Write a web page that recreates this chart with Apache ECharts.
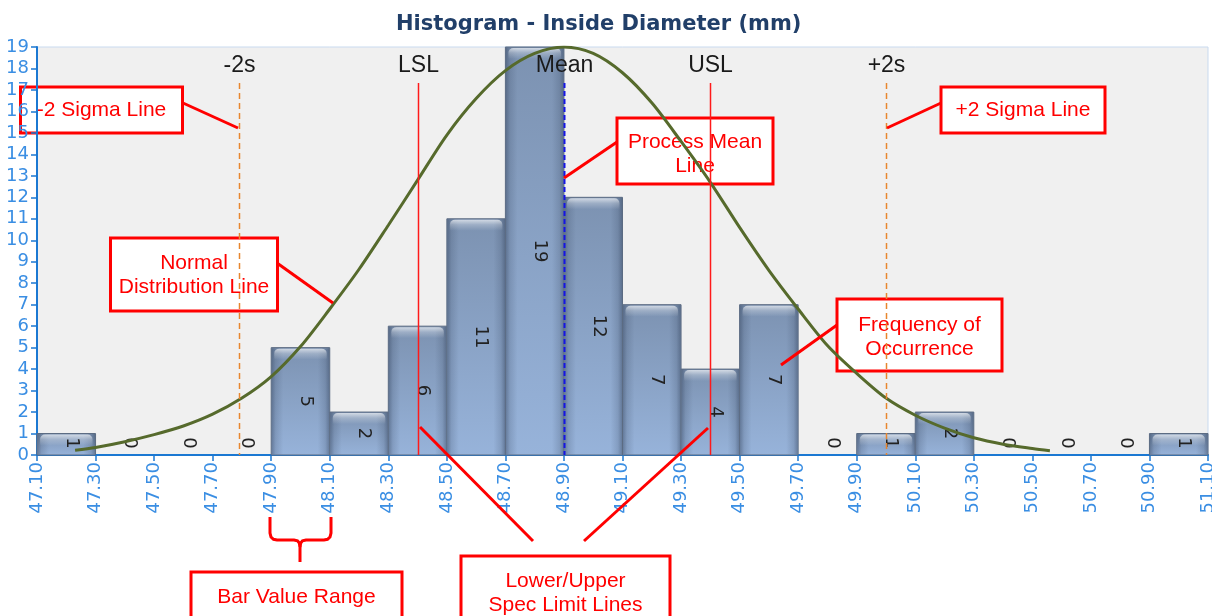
<!DOCTYPE html>
<html>
<head>
<meta charset="utf-8">
<script src="https://cdn.jsdelivr.net/npm/echarts@6/dist/echarts.min.js"></script>
<style>
  html, body { margin: 0; padding: 0; background: #ffffff; }
  #chart { width: 1212px; height: 616px; }
</style>
</head>
<body>
<div id="chart"></div>
<script>
// Bin edges (mm) – also used as the x tick labels
const binEdges = [47.10, 47.30, 47.50, 47.70, 47.90, 48.10, 48.30, 48.50, 48.70, 48.90,
                  49.10, 49.30, 49.50, 49.70, 49.90, 50.10, 50.30, 50.50, 50.70, 50.90, 51.10];
// Frequency of occurrence in each bin
const counts = [1, 0, 0, 0, 5, 2, 6, 11, 19, 12, 7, 4, 7, 0, 1, 2, 0, 0, 0, 1];

// Fitted normal distribution curve (mm, frequency)
const curveX = [47.23, 47.30, 47.40, 47.50, 47.60, 47.70, 47.80, 47.90, 48.00, 48.10,
                48.20, 48.30, 48.40, 48.50, 48.60, 48.70, 48.80, 48.90, 49.00, 49.10,
                49.20, 49.30, 49.40, 49.50, 49.60, 49.70, 49.80, 49.90, 50.00, 50.10,
                50.20, 50.30, 50.40, 50.50, 50.56];
const curveY = [0.22, 0.35, 0.62, 0.95, 1.35, 1.9, 2.65, 3.65, 5.05, 6.8,
                8.65, 10.7, 12.8, 14.9, 16.6, 17.9, 18.7, 19.0, 18.7, 17.8,
                16.4, 14.6, 12.7, 10.6, 8.6, 6.8, 5.1, 3.8, 2.65, 1.85,
                1.25, 0.8, 0.5, 0.3, 0.2];

// Reference lines: sigma limits, spec limits and process mean
const refNames  = ['-2s', 'LSL', 'Mean', 'USL', '+2s'];
const refValues = [47.79, 48.40, 48.90, 49.40, 50.00];
const refKinds  = ['sigma', 'spec', 'mean', 'spec', 'sigma'];

// The x axis runs from the first bin edge so that ticks fall on every edge
const axisOrigin = binEdges[0];
const toAxis = v => +(v - axisOrigin).toFixed(6);
const binWidth = +(binEdges[1] - binEdges[0]).toFixed(6);
const span = toAxis(binEdges[binEdges.length - 1]);

const chart = echarts.init(document.getElementById('chart'));

function grad(x2, y2, stops) {
  return { type: 'linear', x: 0, y: 0, x2: x2, y2: y2, global: false,
           colorStops: stops.map(s => ({ offset: s[0], color: s[1] })) };
}
const barFill = grad(0, 1, [[0, '#7c92b1'], [1, '#97b3da']]);
const barShade = grad(1, 0, [
  [0, 'rgba(45,60,85,0.45)'], [0.07, 'rgba(45,60,85,0.18)'], [0.2, 'rgba(45,60,85,0)'],
  [0.8, 'rgba(45,60,85,0)'], [0.93, 'rgba(45,60,85,0.18)'], [1, 'rgba(45,60,85,0.45)']
]);
const barCap = grad(0, 1, [
  [0, 'rgba(255,255,255,0.65)'], [0.45, 'rgba(255,255,255,0.25)'], [1, 'rgba(255,255,255,0)']
]);

function renderBar(params, api) {
  const x0 = api.value(0), x1 = api.value(1), n = api.value(2);
  const tl = api.coord([x0, n]);
  const br = api.coord([x1, 0]);
  const w = br[0] - tl[0];
  const h = br[1] - tl[1];
  const children = [];
  if (h > 0.5) {
    children.push({ type: 'rect', shape: { x: tl[0], y: tl[1], width: w, height: h },
      style: { fill: barFill, stroke: '#5b6b82', lineWidth: 1 } });
    children.push({ type: 'rect', silent: true, shape: { x: tl[0] + 0.5, y: tl[1] + 0.5, width: w - 1, height: h - 1 },
      style: { fill: barShade } });
    children.push({ type: 'rect', silent: true,
      shape: { x: tl[0] + 3, y: tl[1] + 1, width: w - 6, height: Math.min(11, h - 2), r: [5, 5, 0, 0] },
      style: { fill: barCap } });
  }
  const cx = (tl[0] + br[0]) / 2 + 5;
  const cy = Math.min((tl[1] + br[1]) / 2, br[1] - 12);
  children.push({ type: 'text', x: cx, y: cy, rotation: -Math.PI / 2,
    style: { text: String(n), align: 'center', verticalAlign: 'middle',
      font: '18px "DejaVu Sans"', fill: '#222222' } });
  return { type: 'group', children };
}

const refStyles = {
  sigma: { stroke: '#e8862f', lineWidth: 1.5, lineDash: [6, 4] },
  spec:  { stroke: '#ff1a1a', lineWidth: 1.5 },
  mean:  { stroke: '#1414e6', lineWidth: 2, lineDash: [5, 3] }
};

function renderRef(params, api) {
  const i = params.dataIndex;
  const base = api.coord([api.value(0), 0]);
  const top = params.coordSys.y + 36;
  const x = Math.round(base[0]) + 0.5;
  return {
    type: 'group',
    children: [
      { type: 'line', shape: { x1: x, y1: top, x2: x, y2: base[1] }, style: refStyles[refKinds[i]] },
      { type: 'text', x: x, y: top - 17,
        style: { text: refNames[i], align: 'center', verticalAlign: 'middle',
          font: '23px "Liberation Sans"', fill: '#1a1a1a' } }
    ]
  };
}

// Callout boxes and connectors
const RED = '#ff0000';
function callout(x, y, w, h, text, cy) {
  return {
    type: 'group', z: 100,
    children: [
      { type: 'rect', shape: { x: x, y: y, width: w, height: h },
        style: { fill: '#ffffff', stroke: RED, lineWidth: 3 } },
      { type: 'text', x: x + w / 2, y: cy === undefined ? y + h / 2 : cy,
        style: { text: text, align: 'center', verticalAlign: 'middle',
          font: '21px "Liberation Sans"', lineHeight: 24, fill: RED } }
    ]
  };
}
function connector(x1, y1, x2, y2) {
  return { type: 'line', z: 100, shape: { x1, y1, x2, y2 },
    style: { stroke: RED, lineWidth: 3 } };
}
function polyline(points) {
  return { type: 'polyline', z: 100, shape: { points },
    style: { stroke: RED, lineWidth: 3, fill: null } };
}

const graphics = [
  connector(183, 103, 238, 128),
  callout(20.5, 87, 162, 46, '-2 Sigma Line'),
  connector(941, 103, 887, 128),
  callout(941, 87, 164, 46, '+2 Sigma Line'),
  connector(617, 142, 564, 178),
  callout(617, 118, 156, 66, 'Process Mean\nLine', 154),
  connector(277, 263, 333, 303),
  callout(110.5, 238, 167, 73, 'Normal\nDistribution Line', 275),
  connector(837, 325, 781, 365),
  callout(837, 299, 165, 72, 'Frequency of\nOccurrence', 337),
  connector(420, 427, 533, 541),
  connector(708, 428, 584, 541),
  callout(191, 572, 211, 60, 'Bar Value Range', 597),
  callout(461, 556, 209, 70, 'Lower/Upper\nSpec Limit Lines', 593),
  // curly brace under one bin
  polyline([[270, 517], [270, 533], [271, 537], [273.5, 539.3], [277, 540], [294, 540],
            [297.5, 540.8], [299.3, 543], [300, 547], [300, 562]]),
  polyline([[331, 517], [331, 533], [330, 537], [327.5, 539.3], [324, 540], [306, 540],
            [302.5, 540.8], [300.7, 543], [300, 547]])
];

const option = {
  backgroundColor: '#ffffff',
  animation: false,
  title: {
    text: 'Histogram - Inside Diameter (mm)',
    left: 391, top: 9,
    textStyle: { fontFamily: 'DejaVu Sans', fontWeight: 'bold', fontSize: 21, color: '#213f69' }
  },
  grid: {
    left: 37, right: 4, top: 47, bottom: 161,
    outerBoundsMode: 'none', containLabel: false,
    show: true, backgroundColor: '#f0f0f0', borderColor: '#c9daef', borderWidth: 1
  },
  xAxis: {
    type: 'value', min: 0, max: span, interval: binWidth,
    axisLine: { show: true, lineStyle: { color: '#1b78d2', width: 2 } },
    axisTick: { show: true, length: 6, lineStyle: { color: '#1b78d2', width: 1.5 } },
    axisLabel: {
      rotate: 90, margin: 7, color: '#3a8ee3',
      fontFamily: 'DejaVu Sans', fontSize: 18,
      showMinLabel: true, showMaxLabel: true, hideOverlap: false,
      formatter: v => (axisOrigin + v).toFixed(2)
    },
    splitLine: { show: false }
  },
  yAxis: {
    type: 'value', min: 0, max: 19, interval: 1,
    axisLine: { show: true, lineStyle: { color: '#1b78d2', width: 2 } },
    axisTick: { show: true, length: 6, lineStyle: { color: '#1b78d2', width: 1.5 } },
    axisLabel: { margin: 8, color: '#3a8ee3', fontFamily: 'DejaVu Sans', fontSize: 18 },
    splitLine: { show: false }
  },
  series: [
    {
      type: 'custom', name: 'Frequency', z: 2,
      renderItem: renderBar,
      encode: { x: [0, 1], y: 2 },
      data: counts.map((c, i) => [toAxis(binEdges[i]), toAxis(binEdges[i + 1]), c])
    },
    {
      type: 'line', name: 'Normal', z: 3,
      smooth: 0.3, showSymbol: false, symbol: 'none',
      lineStyle: { color: '#566a2c', width: 3 },
      data: curveX.map((x, i) => [toAxis(x), curveY[i]])
    },
    {
      type: 'custom', name: 'Reference', z: 4,
      renderItem: renderRef,
      encode: { x: 0, y: 1 },
      data: refValues.map(v => [toAxis(v), 0])
    }
  ],
  graphic: graphics
};

chart.setOption(option);
</script>
</body>
</html>
